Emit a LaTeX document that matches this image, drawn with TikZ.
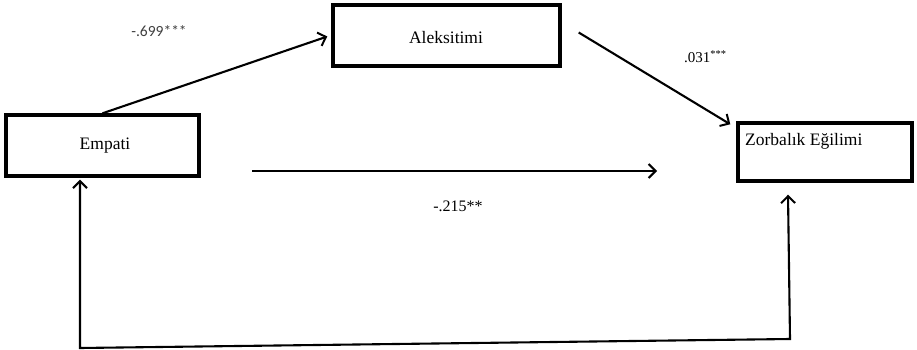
\documentclass[tikz,border=0pt]{standalone}
\usepackage{fontspec}
\setmainfont{Liberation Serif}
\newfontfamily\calib{Carlito}
\usetikzlibrary{arrows.meta}
\begin{document}
\begin{tikzpicture}[x=1pt,y=-1pt,
  box/.style={draw,line width=3.4pt,rectangle,inner sep=0pt},
  tip/.style={},
  conn/.style={line width=2.1pt,-{Straight Barb[length=7pt,width=14pt,line width=2pt]}},
  boxtext/.style={font=\fontsize{17.5}{19}\selectfont,inner sep=0pt},
  lbl/.style={inner sep=0pt}]
\useasboundingbox[fill=white] (0,0) rectangle (917,350);
% boxes
\node[box,minimum width=193pt,minimum height=61pt] (emp) at (102.5,145.5) {};
\node[boxtext] (emptxt) at (105,146) {Empati};
\node[box,minimum width=227pt,minimum height=61pt] (alek) at (446.5,35.5) {};
\node[boxtext] (alektxt) at (446,38) {Aleksitimi};
\node[box,minimum width=174pt,minimum height=58pt] (zor) at (825,152) {};
\node[boxtext,anchor=west] (zortxt) at (745,141) {Zorbalık Eğilimi};
% labels
\node[lbl,font=\calib\fontsize{15.5}{17}\selectfont,text=black!75] (l1) at (159,31) {-.699***};
\node[lbl,font=\fontsize{15}{17}\selectfont,anchor=west] (l2) at (684,57) {.031\textsuperscript{***}};
\node[lbl,font=\fontsize{16}{18}\selectfont] (l3) at (458,206) {-.215**};
% connectors
\coordinate (a1) at (emp.north);
\coordinate (a2) at ([xshift=-4pt,yshift=-1pt]alek.west);
\draw[conn] (a1) -- (a2);
\coordinate (b1) at ([shift={(17,-3)}]alek.east);
\coordinate (b2) at ([shift={(-6,3)}]zor.north west);
\draw[conn] (b1) -- (b2);
\coordinate (c1) at (252,171);
\coordinate (c2) at (657,171);
\draw[conn] (c1) -- (c2);
\coordinate (d1) at ([shift={(-37,12)}]zor.south);
\coordinate (d2) at (790,339);
\coordinate (d3) at (80,348);
\coordinate (d4) at ([shift={(-22.5,2)}]emp.south);
\draw[conn,{Straight Barb[length=7pt,width=14pt,line width=2pt]}-{Straight Barb[length=7pt,width=14pt,line width=2pt]}] (d1) -- (d2) -- (d3) -- (d4);
\end{tikzpicture}
\end{document}
